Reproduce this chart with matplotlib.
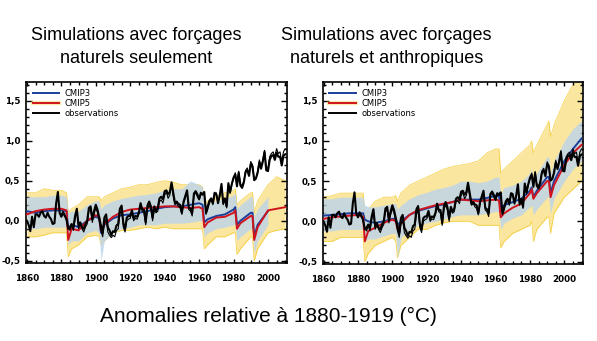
import numpy as np
import matplotlib
matplotlib.use("Agg")
import matplotlib.pyplot as plt
from matplotlib.lines import Line2D
from matplotlib.ticker import MultipleLocator, FuncFormatter

# ---------------- data (anomalies rel. 1880-1919, degC) ----------------
obs_years = list(range(1860, 2011))
obs_main = [0.00, -0.05, -0.13, 0.05, -0.08, 0.08, 0.08, 0.05, 0.10, 0.12,
            0.06, 0.04, 0.10, 0.05, 0.02, -0.04, -0.03, 0.22, 0.36, 0.10,
            0.05, 0.10, 0.06, 0.02, -0.10, -0.08, -0.04, -0.08, 0.06, 0.15,
            -0.06, -0.02, -0.08, -0.10, -0.04, 0.00, 0.16, 0.18, 0.02, 0.12,
            0.20, 0.14, 0.04, -0.06, -0.15, 0.04, 0.08, -0.08, -0.12, -0.18,
            -0.13, -0.14, -0.06, -0.04, 0.15, 0.19, -0.03, -0.10, 0.04, 0.06,
            0.06, 0.13, 0.03, 0.06, 0.05, 0.10, 0.22, 0.14, 0.14, -0.02,
            0.19, 0.24, 0.18, 0.04, 0.18, 0.12, 0.16, 0.28, 0.30, 0.27,
            0.37, 0.38, 0.33, 0.36, 0.48, 0.35, 0.22, 0.24, 0.21, 0.20,
            0.10, 0.24, 0.31, 0.38, 0.17, 0.15, 0.10, 0.34, 0.37, 0.33,
            0.27, 0.35, 0.33, 0.36, 0.10, 0.18, 0.25, 0.28, 0.22, 0.35,
            0.33, 0.22, 0.32, 0.46, 0.22, 0.28, 0.18, 0.47, 0.36, 0.46,
            0.54, 0.58, 0.43, 0.60, 0.44, 0.41, 0.48, 0.61, 0.63, 0.56,
            0.71, 0.68, 0.51, 0.53, 0.60, 0.73, 0.65, 0.74, 0.86, 0.63,
            0.62, 0.76, 0.81, 0.82, 0.76, 0.85, 0.80, 0.80, 0.69, 0.81,
            0.83]
obs2_years = list(range(1880, 2011))
obs_second = [0.08, 0.12, 0.08, 0.00, -0.08, -0.12, -0.06, -0.12, 0.02, 0.12,
              -0.10, -0.04, -0.10, -0.14, -0.08, -0.04, 0.12, 0.14, -0.02, 0.08,
              0.16, 0.10, 0.00, -0.12, -0.20, -0.04, 0.02, -0.14, -0.18, -0.21,
              -0.18, -0.20, -0.12, -0.10, 0.08, 0.14, -0.08, -0.14, 0.00, 0.02,
              0.03, 0.10, 0.00, 0.03, 0.02, 0.08, 0.18, 0.12, 0.10, -0.05,
              0.15, 0.20, 0.14, 0.00, 0.14, 0.10, 0.12, 0.24, 0.26, 0.22,
              0.32, 0.36, 0.28, 0.32, 0.44, 0.30, 0.20, 0.22, 0.18, 0.16,
              0.08, 0.22, 0.28, 0.36, 0.14, 0.12, 0.06, 0.32, 0.35, 0.30,
              0.26, 0.33, 0.32, 0.34, 0.08, 0.14, 0.22, 0.26, 0.20, 0.32,
              0.35, 0.24, 0.30, 0.44, 0.20, 0.26, 0.16, 0.45, 0.34, 0.45,
              0.52, 0.60, 0.46, 0.62, 0.46, 0.44, 0.50, 0.63, 0.66, 0.58,
              0.74, 0.70, 0.50, 0.52, 0.62, 0.76, 0.68, 0.76, 0.88, 0.66,
              0.66, 0.80, 0.84, 0.86, 0.80, 0.90, 0.84, 0.86, 0.74, 0.86,
              0.90]

knot_years = [1860, 1865, 1870, 1875, 1880, 1883, 1884, 1886, 1890, 1895,
              1900, 1902, 1903, 1905, 1910, 1915, 1920, 1925, 1930, 1935,
              1940, 1945, 1950, 1955, 1960, 1962, 1963, 1965, 1970, 1975,
              1980, 1981, 1982, 1984, 1990, 1991, 1992, 1994, 2000, 2005,
              2010]

# natural forcings only
cmip5_nat = [0.08, 0.12, 0.14, 0.15, 0.15, 0.13, -0.24, -0.10, -0.12, 0.00,
             0.07, 0.05, -0.12, -0.04, 0.05, 0.11, 0.14, 0.15, 0.16, 0.17,
             0.18, 0.18, 0.17, 0.16, 0.17, 0.15, -0.08, -0.02, 0.04, 0.05,
             0.10, 0.13, -0.10, -0.03, 0.06, 0.06, -0.24, -0.08, 0.13, 0.15,
             0.17]
cmip3_nat = [0.12, 0.10, 0.12, 0.13, 0.13, 0.12, -0.10, -0.05, -0.08, 0.00,
             0.05, 0.03, -0.15, -0.05, 0.03, 0.07, 0.08, 0.10, 0.12, 0.15,
             0.17, 0.18, 0.18, 0.20, 0.22, 0.20, -0.02, 0.02, 0.06, 0.08,
             0.14, 0.17, -0.05, 0.00, 0.10, 0.10, -0.20, -0.05, 0.12]
c5_lo_nat = [-0.20, -0.20, -0.18, -0.15, -0.15, -0.15, -0.45, -0.35, -0.30, -0.20,
             -0.18, -0.20, -0.30, -0.25, -0.15, -0.12, -0.12, -0.10, -0.08, -0.10,
             -0.08, -0.10, -0.10, -0.10, -0.10, -0.10, -0.35, -0.30, -0.20, -0.20,
             -0.15, -0.15, -0.42, -0.35, -0.20, -0.20, -0.50, -0.35, -0.15, -0.12,
             -0.10]
c5_hi_nat = [0.35, 0.35, 0.40, 0.38, 0.38, 0.35, 0.10, 0.15, 0.20, 0.30,
             0.30, 0.30, 0.25, 0.30, 0.35, 0.40, 0.42, 0.45, 0.45, 0.48,
             0.50, 0.48, 0.45, 0.45, 0.45, 0.42, 0.20, 0.25, 0.30, 0.35,
             0.38, 0.40, 0.20, 0.25, 0.35, 0.35, 0.10, 0.25, 0.45, 0.55,
             0.50]
c3_lo_nat = [-0.10, -0.10, -0.08, -0.08, -0.08, -0.08, -0.30, -0.25, -0.25, -0.15,
             -0.12, -0.15, -0.50, -0.25, -0.15, -0.10, -0.08, -0.05, -0.05, -0.05,
             -0.03, -0.03, -0.03, -0.02, 0.00, 0.00, -0.20, -0.15, -0.10, -0.08,
             -0.05, -0.05, -0.25, -0.20, -0.10, -0.10, -0.40, -0.25, -0.05]
c3_hi_nat = [0.30, 0.30, 0.30, 0.32, 0.32, 0.30, 0.10, 0.12, 0.12, 0.20,
             0.25, 0.25, 0.15, 0.20, 0.25, 0.28, 0.30, 0.32, 0.33, 0.35,
             0.38, 0.40, 0.40, 0.50, 0.45, 0.42, 0.20, 0.22, 0.25, 0.28,
             0.32, 0.35, 0.15, 0.20, 0.30, 0.30, 0.05, 0.15, 0.30]

# natural + anthropogenic forcings
cmip5_all = [0.03, 0.05, 0.06, 0.07, 0.08, 0.06, -0.25, -0.12, -0.08, -0.02,
             0.02, 0.00, -0.10, -0.03, 0.08, 0.14, 0.17, 0.20, 0.22, 0.24,
             0.27, 0.26, 0.25, 0.26, 0.27, 0.26, 0.05, 0.10, 0.17, 0.22,
             0.35, 0.40, 0.28, 0.35, 0.50, 0.50, 0.30, 0.45, 0.70, 0.85,
             0.95]
cmip3_all = [0.07, 0.08, 0.09, 0.10, 0.10, 0.10, 0.02, 0.00, -0.02, 0.00,
             0.03, 0.03, -0.05, 0.00, 0.08, 0.13, 0.16, 0.19, 0.21, 0.24,
             0.27, 0.27, 0.27, 0.29, 0.32, 0.32, 0.15, 0.20, 0.24, 0.28,
             0.38, 0.42, 0.30, 0.38, 0.55, 0.55, 0.35, 0.50, 0.75, 0.90,
             1.03]
c5_lo_all = [-0.25, -0.25, -0.20, -0.20, -0.20, -0.20, -0.50, -0.40, -0.30, -0.25,
             -0.20, -0.25, -0.45, -0.30, -0.20, -0.10, -0.10, -0.05, -0.02, 0.00,
             0.00, 0.00, -0.05, -0.05, -0.05, -0.05, -0.33, -0.25, -0.15, -0.10,
             -0.05, 0.00, -0.25, -0.10, 0.05, 0.05, -0.15, 0.10, 0.30, 0.40,
             0.50]
c5_hi_all = [0.30, 0.32, 0.35, 0.35, 0.35, 0.35, 0.10, 0.15, 0.25, 0.30,
             0.30, 0.32, 0.25, 0.35, 0.45, 0.50, 0.55, 0.60, 0.65, 0.68,
             0.70, 0.72, 0.75, 0.85, 0.90, 0.90, 0.60, 0.65, 0.75, 0.85,
             0.95, 1.00, 0.85, 0.95, 1.20, 1.25, 1.05, 1.20, 1.50, 1.70,
             1.75]
c3_lo_all = [-0.12, -0.12, -0.10, -0.10, -0.10, -0.10, -0.25, -0.22, -0.22, -0.18,
             -0.15, -0.15, -0.45, -0.20, -0.10, -0.05, -0.02, 0.00, 0.03, 0.06,
             0.08, 0.08, 0.08, 0.10, 0.12, 0.12, -0.10, -0.02, 0.04, 0.08,
             0.18, 0.20, 0.08, 0.15, 0.30, 0.30, 0.10, 0.28, 0.50, 0.65,
             0.75]
c3_hi_all = [0.28, 0.28, 0.30, 0.30, 0.30, 0.30, 0.20, 0.18, 0.18, 0.20,
             0.22, 0.22, 0.15, 0.20, 0.28, 0.33, 0.36, 0.40, 0.42, 0.45,
             0.50, 0.50, 0.48, 0.50, 0.55, 0.55, 0.35, 0.42, 0.45, 0.50,
             0.60, 0.65, 0.50, 0.60, 0.80, 0.80, 0.60, 0.75, 1.00, 1.15,
             1.25]

titles = ["Simulations avec forçages\nnaturels seulement",
          "Simulations avec forçages\nnaturels et anthropiques"]
xlabel_text = "Anomalies relative à 1880-1919 (°C)"

C_BLUE, C_RED = "#1b3f9a", "#d0141e"
C_YEL, C_LBLUE = "#f5c92a", "#bcd4ec"

plt.rcParams.update({"font.family": ["Liberation Sans", "DejaVu Sans"]})

fig = plt.figure(figsize=(5.97, 3.41), dpi=100)
axes = [fig.add_axes([0.0436, 0.228, 0.437, 0.531]),
        fig.add_axes([0.5405, 0.226, 0.4365, 0.533])]

panels = [
    (cmip3_nat, cmip5_nat, c3_lo_nat, c3_hi_nat, c5_lo_nat, c5_hi_nat),
    (cmip3_all, cmip5_all, c3_lo_all, c3_hi_all, c5_lo_all, c5_hi_all),
]

for ax, (c3, c5, c3lo, c3hi, c5lo, c5hi) in zip(axes, panels):
    ky = np.array(knot_years)
    n3 = len(c3)
    ax.fill_between(ky, c5lo, c5hi, color=C_YEL, alpha=0.45, lw=0, zorder=1)
    ax.plot(ky, c5lo, color=C_YEL, lw=0.6, alpha=0.8, zorder=1)
    ax.plot(ky, c5hi, color=C_YEL, lw=0.6, alpha=0.8, zorder=1)
    ax.fill_between(ky[:n3], c3lo, c3hi, color=C_LBLUE, alpha=0.8, lw=0, zorder=2)
    ax.plot(ky[:n3], c3, color=C_BLUE, lw=1.4, zorder=3)
    ax.plot(ky, c5, color=C_RED, lw=1.4, zorder=4)
    ax.plot(obs2_years, obs_second, color="black", lw=0.8, zorder=5)
    ax.plot(obs_years, obs_main, color="black", lw=1.5, zorder=6)

    ax.set_xlim(1859.5, 2011)
    ax.set_ylim(-0.53, 1.73)
    ax.xaxis.set_major_locator(MultipleLocator(20))
    ax.xaxis.set_minor_locator(MultipleLocator(5))
    ax.yaxis.set_major_locator(MultipleLocator(0.5))
    ax.yaxis.set_minor_locator(MultipleLocator(0.1))
    ax.yaxis.set_major_formatter(FuncFormatter(lambda v, p: f"{v:.1f}".replace(".", ",")))
    ax.tick_params(which="both", direction="in", top=True, right=True, width=1.0)
    ax.tick_params(which="major", length=4)
    ax.tick_params(which="minor", length=2.5)
    ax.tick_params(axis="x", which="major", length=3)
    ax.tick_params(axis="x", pad=8)
    ax.tick_params(axis="y", pad=4)
    for lbl in ax.get_xticklabels() + ax.get_yticklabels():
        lbl.set_fontfamily("DejaVu Sans")
        lbl.set_fontweight("bold")
        lbl.set_fontsize(6.3)
    for sp in ax.spines.values():
        sp.set_linewidth(1.2)

handles = [Line2D([0], [0], color=C_BLUE, lw=1.4),
           (Line2D([0], [0], color=C_YEL, lw=3, alpha=0.4),
            Line2D([0], [0], color=C_RED, lw=1.4)),
           Line2D([0], [0], color="black", lw=1.4)]
for ax in axes:
    leg = ax.legend(handles, ["CMIP3", "CMIP5", "observations"], loc="upper left",
                    frameon=False, handlelength=3.2, handletextpad=0.6,
                    labelspacing=0.15, borderaxespad=0.4,
                    prop={"family": "DejaVu Sans", "size": 6})

fig.text(0.228, 0.862, titles[0], ha="center", va="center", fontsize=13,
         linespacing=1.45)
fig.text(0.647, 0.862, titles[1], ha="center", va="center", fontsize=13,
         linespacing=1.45)
fig.text(0.449, 0.073, xlabel_text, ha="center", va="center", fontsize=15)

fig.savefig("out.png", dpi=100)
